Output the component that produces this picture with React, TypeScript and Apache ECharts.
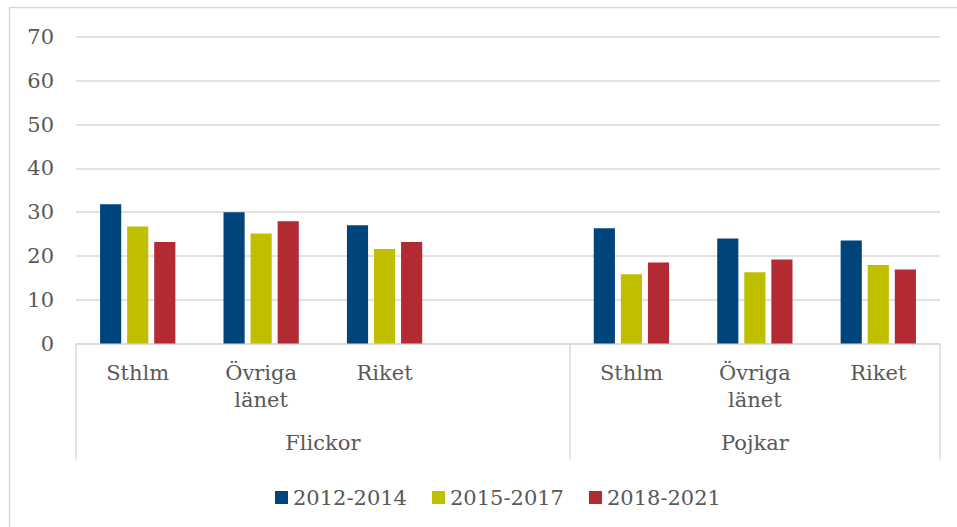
import React, { useEffect, useRef } from "react";
import * as echarts from "echarts";

const categories = ["Sthlm", "Övriga\nlänet", "Riket", "", "Sthlm", "Övriga\nlänet", "Riket"];
const groupNames = ["Flickor", "Pojkar"];
const groupSizes = [4, 3];
const seriesNames = ["2012-2014", "2015-2017", "2018-2021"];
const values2012 = [31.8, 30.0, 27.0, null, 26.3, 24.0, 23.5];
const values2015 = [26.7, 25.1, 21.6, null, 15.8, 16.3, 17.9];
const values2018 = [23.2, 27.9, 23.2, null, 18.5, 19.2, 16.9];
const colors = ["#00447c", "#bfbf00", "#b22a32"];
const yTicks = [0, 10, 20, 30, 40, 50, 60, 70];

export default function App() {
  const ref = useRef<HTMLDivElement>(null);
  useEffect(() => {
    if (!ref.current) return;
    const chart = echarts.init(ref.current, null, { renderer: "svg" });
    const font = "'DejaVu Serif', serif";
    const textColor = "#595959";
    const gridColor = "#d9d9d9";
    const fs = 21;
    const boundaries: number[] = [0];
    const centers: number[] = [];
    groupSizes.forEach((s) => {
      const start = boundaries[boundaries.length - 1];
      centers.push(start + s / 2);
      boundaries.push(start + s);
    });
    const total = boundaries[boundaries.length - 1];
    const allData = [values2012, values2015, values2018];
    chart.setOption({
      animation: false,
      backgroundColor: "#ffffff",
      grid: { left: 76, right: 17, top: 37, bottom: 183.5, containLabel: false },
      legend: {
        top: 482,
        left: 270,
        icon: "rect",
        itemWidth: 13,
        itemHeight: 13,
        itemGap: 25,
        textStyle: { color: textColor, fontFamily: font, fontSize: fs },
        data: seriesNames,
      },
      xAxis: [
        {
          type: "category",
          data: categories,
          axisLine: { show: true, lineStyle: { color: gridColor, width: 1.5 } },
          axisTick: { show: false },
          axisLabel: {
            interval: 0,
            color: textColor,
            fontFamily: font,
            fontSize: fs,
            lineHeight: 27,
            margin: 16,
          },
        },
        {
          type: "value",
          min: 0,
          max: total,
          position: "bottom",
          axisLine: { show: false },
          splitLine: { show: false },
          axisTick: {
            show: true,
            customValues: boundaries,
            length: 116,
            lineStyle: { color: gridColor, width: 1.5 },
          },
          axisLabel: {
            customValues: centers,
            formatter: (v: number) => {
              const i = centers.findIndex((c) => Math.abs(c - v) < 1e-6);
              return i >= 0 ? groupNames[i] : "";
            },
            color: textColor,
            fontFamily: font,
            fontSize: fs,
            margin: 89,
          },
        },
      ],
      yAxis: {
        type: "value",
        min: yTicks[0],
        max: yTicks[yTicks.length - 1],
        interval: 10,
        axisLine: { show: false },
        axisTick: { show: false },
        splitLine: { lineStyle: { color: gridColor, width: 1.5 } },
        axisLabel: { color: textColor, fontFamily: font, fontSize: fs, margin: 22 },
      },
      series: seriesNames.map((name, i) => ({
        name,
        type: "bar",
        xAxisIndex: 0,
        data: allData[i],
        barGap: "28%",
        barCategoryGap: "39%",
        itemStyle: { color: colors[i] },
      })),
      graphic: [
        {
          type: "rect",
          silent: true,
          shape: { x: 9.5, y: 7.5, width: 980, height: 560 },
          style: { fill: "none", stroke: gridColor, lineWidth: 1.5 },
        },
      ],
    });
    return () => chart.dispose();
  }, []);
  return (
    <div
      ref={ref}
      style={{ position: "absolute", left: 0, top: 0, width: 957, height: 527 }}
    />
  );
}
